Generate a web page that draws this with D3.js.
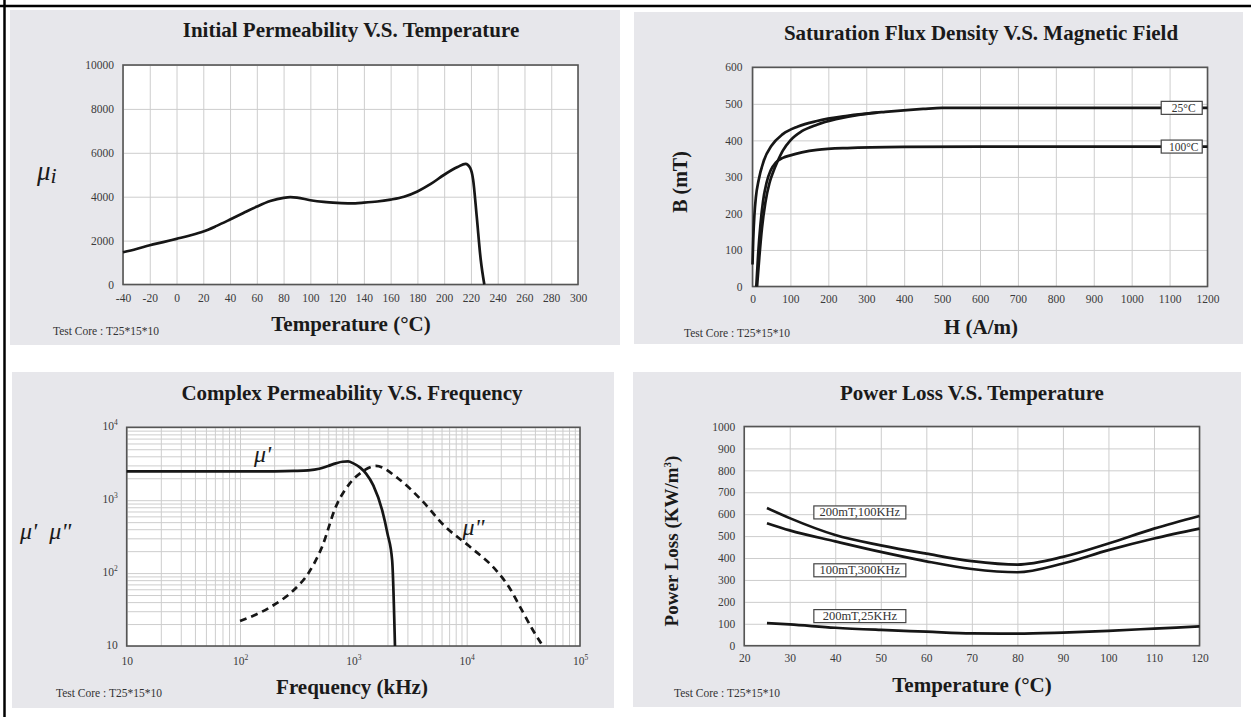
<!DOCTYPE html>
<html><head><meta charset="utf-8">
<script src="https://cdn.jsdelivr.net/npm/d3@7"></script>
<style>
body{margin:0;background:#fff}
svg{display:block}
text{font-family:"Liberation Serif","Times New Roman",serif}
</style>
</head><body>
<svg id="c" width="1251" height="717"></svg>
<script>
// ---------- Panel 1: Initial Permeability vs Temperature ----------
const p1Temp = [-40,-30,-20,-10,0,10,20,30,40,50,60,70,80,85,90,100,110,120,130,140,150,160,170,180,190,200,210,216,219.5,221.6,224.3,227.3,230];
const p1Mu   = [1470,1620,1790,1930,2080,2230,2410,2670,2960,3260,3550,3800,3950,3980,3960,3840,3760,3720,3700,3730,3780,3870,4000,4240,4580,5000,5350,5500,5300,4790,3110,1140,0];
const p1XTicks = [-40,-20,0,20,40,60,80,100,120,140,160,180,200,220,240,260,280,300];
const p1YTicks = [0,2000,4000,6000,8000,10000];

// ---------- Panel 2: Saturation Flux Density vs Magnetic Field ----------
const p2H25a = [0,2,5,9,16,30,50,80,120,170,250,350,450,500,1200];
const p2B25a = [60,130,195,245,290,345,385,417,438,453,467,478,486,489,489];
const p2H25b = [12,18,25,34,45,55,65,80,100,130,170,220,280,330];
const p2B25b = [0,80,160,230,284,315,340,372,400,425,443,458,470,476];
const p2H100 = [10,15,21,28,37,48,62,80,100,130,170,250,400,600,1200];
const p2B100 = [0,90,170,235,284,318,340,352,359,367,374,379,382,383,383];
const p2Labels = ["25°C","100°C"];
const p2LabelH = [1132,1132];
const p2LabelB = [489,383];
const p2XTicks = [0,100,200,300,400,500,600,700,800,900,1000,1100,1200];
const p2YTicks = [0,100,200,300,400,500,600];

// ---------- Panel 3: Complex Permeability vs Frequency ----------
const p3FreqReal = [10,100,200,300,400,500,600,700,800,900,1000,1150,1300,1500,1800,2000,2200,2330];
const p3MuReal   = [2480,2480,2490,2520,2570,2700,2950,3200,3370,3400,3200,2800,2300,1600,720,350,150,10];
const p3FreqImag = [100,190,300,400,530,700,930,1200,1580,2470,4000,6500,10500,18600,24000,30000,38000,47000];
const p3MuImag   = [22,35,59,99,230,810,1700,2460,2950,2000,1000,430,235,105,62,33,17,10];
const p3XExp = [1,2,3,4,5];
const p3YExp = [1,2,3,4];

// ---------- Panel 4: Power Loss vs Temperature ----------
const p4Temp = [25,30,40,50,60,70,80,90,100,110,120];
const p4A = [628,582,505,458,420,386,370,405,466,534,592];   // 200mT,100KHz
const p4B = [559,526,476,428,385,350,335,375,436,489,534];   // 100mT,300KHz
const p4C = [103,97,82,72,64,56,55,60,68,78,88];             // 200mT,25KHz
const p4Labels = ["200mT,100KHz","100mT,300KHz","200mT,25KHz"];
const p4LabelT = [45.4,45.4,45.4];
const p4LabelV = [608,344,135];
const p4XTicks = [20,30,40,50,60,70,80,90,100,110,120];
const p4YTicks = [0,100,200,300,400,500,600,700,800,900,1000];

const svg = d3.select("#c");
svg.append("rect").attr("width",1251).attr("height",717).attr("fill","#fff");

const BG = "#e7e7eb", GRID = "#cdcdcd", FRAME = "#555", INK = "#161616";

function panel(o){
  const g = svg.append("g");
  g.append("rect").attr("x",o.bg[0]).attr("y",o.bg[1]).attr("width",o.bg[2]-o.bg[0]).attr("height",o.bg[3]-o.bg[1]).attr("fill",BG);
  const [x0,x1] = o.x.range(), [y0,y1] = o.y.range();
  g.append("rect").attr("x",x0).attr("y",y1).attr("width",x1-x0).attr("height",y0-y1).attr("fill","#fff");
  const gx = g.append("g").attr("transform",`translate(0,${y0})`)
    .call(d3.axisBottom(o.x).tickValues(o.xGrid).tickSize(-(y0-y1)).tickFormat(""));
  const gy = g.append("g").attr("transform",`translate(${x0},0)`)
    .call(d3.axisLeft(o.y).tickValues(o.yGrid).tickSize(-(x1-x0)).tickFormat(""));
  [gx,gy].forEach(a=>{a.select(".domain").remove();a.selectAll("line").attr("stroke",GRID).attr("stroke-width",1);});
  g.append("rect").attr("x",x0).attr("y",y1).attr("width",x1-x0).attr("height",y0-y1)
    .attr("fill","none").attr("stroke",FRAME).attr("stroke-width",1.6);
  const lx = g.append("g").attr("transform",`translate(0,${y0})`)
    .call(d3.axisBottom(o.x).tickValues(o.xTicks).tickSize(0).tickPadding(o.xPad).tickFormat(o.xFmt||(d=>d)));
  const ly = g.append("g").attr("transform",`translate(${x0},0)`)
    .call(d3.axisLeft(o.y).tickValues(o.yTicks).tickSize(0).tickPadding(o.yPad).tickFormat(o.yFmt||(d=>d)));
  [lx,ly].forEach(a=>{a.select(".domain").remove();a.selectAll("text").attr("font-family","Liberation Serif").attr("font-size",11.5).attr("fill","#3a3a3a");});
  g.append("text").attr("x",o.title[1]).attr("y",o.title[2]).attr("text-anchor","middle")
    .attr("font-size",21).attr("font-weight","bold").attr("fill","#1a1a1a").text(o.title[0]);
  g.append("text").attr("x",o.xlab[1]).attr("y",o.xlab[2]).attr("text-anchor","middle")
    .attr("font-size",21).attr("font-weight","bold").attr("fill","#1a1a1a").text(o.xlab[0]);
  g.append("text").attr("x",o.core[0]).attr("y",o.core[1]).attr("font-size",11.5).attr("fill","#333").text("Test Core : T25*15*10");
  return {g,lx,ly};
}

function supTicks(sel){
  sel.selectAll(".tick text").each(function(d){
    const t = d3.select(this); t.text("");
    const e = Math.round(Math.log10(d));
    t.append("tspan").text("10");
    if(e>1) t.append("tspan").attr("dy",-5).attr("font-size",7.5).text(e);
  });
}

function drawLine(g, xs, ys, sx, sy, curve, dash){
  const pts = xs.map((v,i)=>[sx(v), sy(ys[i])]);
  g.append("path").datum(pts).attr("d", d3.line().curve(curve)(pts))
    .attr("fill","none").attr("stroke",INK).attr("stroke-width",2.7)
    .attr("stroke-linejoin","round").attr("stroke-dasharray",dash||null);
}

// ---------- Panel 1 ----------
{
  const x = d3.scaleLinear().domain([-40,300]).range([123,578]);
  const y = d3.scaleLinear().domain([0,10000]).range([284.5,65]);
  const p = panel({bg:[10,10,620,345],x,y,xGrid:p1XTicks,yGrid:p1YTicks,xTicks:p1XTicks,yTicks:p1YTicks,
    xPad:9,yPad:9,title:["Initial Permeability V.S. Temperature",351,37],xlab:["Temperature (°C)",351,331],core:[53,335]});
  drawLine(p.g,p1Temp,p1Mu,x,y,d3.curveMonotoneX);
  const t = p.g.append("text").attr("x",37).attr("y",180).attr("font-size",27).attr("font-style","italic").attr("fill","#1a1a1a");
  t.append("tspan").text("μ");
  t.append("tspan").attr("dy",3).attr("font-size",22).text("i");
}

// ---------- Panel 2 ----------
{
  const x = d3.scaleLinear().domain([0,1200]).range([752.5,1207.5]);
  const y = d3.scaleLinear().domain([0,600]).range([286.5,67.3]);
  const p = panel({bg:[634,12,1243,344],x,y,xGrid:p2XTicks,yGrid:p2YTicks,xTicks:p2XTicks,yTicks:p2YTicks,
    xPad:8,yPad:10,title:["Saturation Flux Density V.S. Magnetic Field",981,40],xlab:["H (A/m)",981,334],core:[684,337]});
  drawLine(p.g,p2H25a,p2B25a,x,y,d3.curveMonotoneX);
  drawLine(p.g,p2H25b,p2B25b,x,y,d3.curveMonotoneX);
  drawLine(p.g,p2H100,p2B100,x,y,d3.curveMonotoneX);
  p2Labels.forEach((s,i)=>{
    const cx = x(p2LabelH[i]), cy = y(p2LabelB[i]);
    p.g.append("rect").attr("x",cx-20.5).attr("y",cy-6.5).attr("width",41).attr("height",13)
      .attr("fill","#fff").attr("stroke","#444").attr("stroke-width",1.2);
    p.g.append("text").attr("x",cx+2).attr("y",cy+4).attr("text-anchor","middle").attr("font-size",11.5).attr("fill","#333").text(s);
  });
  p.g.append("text").attr("transform","translate(687,182) rotate(-90)").attr("text-anchor","middle")
    .attr("font-size",20).attr("font-weight","bold").attr("fill","#1a1a1a").text("B (mT)");
}

// ---------- Panel 3 ----------
{
  const x = d3.scaleLog().domain([10,1e5]).range([126.7,580]);
  const y = d3.scaleLog().domain([10,1e4]).range([646,427.3]);
  const xGrid = [], yGrid = [];
  p3XExp.slice(0,4).forEach(e=>{for(let k=1;k<10;k++) xGrid.push(k*Math.pow(10,e));}); xGrid.push(1e5);
  p3YExp.slice(0,3).forEach(e=>{for(let k=1;k<10;k++) yGrid.push(k*Math.pow(10,e));}); yGrid.push(1e4);
  const p = panel({bg:[12,372,614,708],x,y,xGrid,yGrid,
    xTicks:p3XExp.map(e=>Math.pow(10,e)),yTicks:p3YExp.map(e=>Math.pow(10,e)),
    xPad:11,yPad:9,title:["Complex Permeability V.S. Frequency",352,400],xlab:["Frequency (kHz)",352,694],core:[56,697]});
  supTicks(p.lx); supTicks(p.ly);
  p.ly.selectAll(".tick text").attr("dy","0.2em");
  drawLine(p.g,p3FreqReal,p3MuReal,x,y,d3.curveMonotoneX);
  drawLine(p.g,p3FreqImag,p3MuImag,x,y,d3.curveMonotoneX,"7,5");
  p.g.append("text").attr("x",x(158)).attr("y",y(3300)).attr("text-anchor","middle").attr("font-size",24).attr("font-style","italic").attr("fill","#1a1a1a").text("μ'");
  p.g.append("text").attr("x",x(11500)).attr("y",y(330)).attr("text-anchor","middle").attr("font-size",24).attr("font-style","italic").attr("fill","#1a1a1a").text("μ\"");
  p.g.append("text").attr("x",20).attr("y",539).attr("font-size",24).attr("font-style","italic").attr("fill","#1a1a1a").attr("xml:space","preserve").text("μ'  μ\"");
}

// ---------- Panel 4 ----------
{
  const x = d3.scaleLinear().domain([20,120]).range([744.2,1199.5]);
  const y = d3.scaleLinear().domain([0,1000]).range([645.7,426.5]);
  const p = panel({bg:[633,372,1241,707],x,y,xGrid:p4XTicks,yGrid:p4YTicks,xTicks:p4XTicks,yTicks:p4YTicks,
    xPad:8,yPad:9,title:["Power Loss V.S. Temperature",972,400],xlab:["Temperature (°C)",972,692],core:[674,697]});
  [p4A,p4B,p4C].forEach(s=>drawLine(p.g,p4Temp,s,x,y,d3.curveMonotoneX));
  p4Labels.forEach((s,i)=>{
    const cx = x(p4LabelT[i]), cy = y(p4LabelV[i]);
    p.g.append("rect").attr("x",cx-46).attr("y",cy-6.5).attr("width",92).attr("height",13)
      .attr("fill","#fff").attr("stroke","#444").attr("stroke-width",1.2);
    p.g.append("text").attr("x",cx).attr("y",cy+4).attr("text-anchor","middle").attr("font-size",12.5).attr("fill","#333").text(s);
  });
  const t = p.g.append("text").attr("transform","translate(678,541) rotate(-90)").attr("text-anchor","middle")
    .attr("font-size",19).attr("font-weight","bold").attr("fill","#1a1a1a");
  t.append("tspan").text("Power Loss (KW/m");
  t.append("tspan").attr("dy",-7).attr("font-size",11).text("3");
  t.append("tspan").attr("dy",7).text(")");
}

// outer frame lines (top and left)
svg.append("line").attr("x1",0).attr("x2",1251).attr("y1",6).attr("y2",6).attr("stroke","#000").attr("stroke-width",2.5);
svg.append("line").attr("x1",4.5).attr("x2",4.5).attr("y1",0).attr("y2",717).attr("stroke","#000").attr("stroke-width",2.5);
</script>
</body></html>
